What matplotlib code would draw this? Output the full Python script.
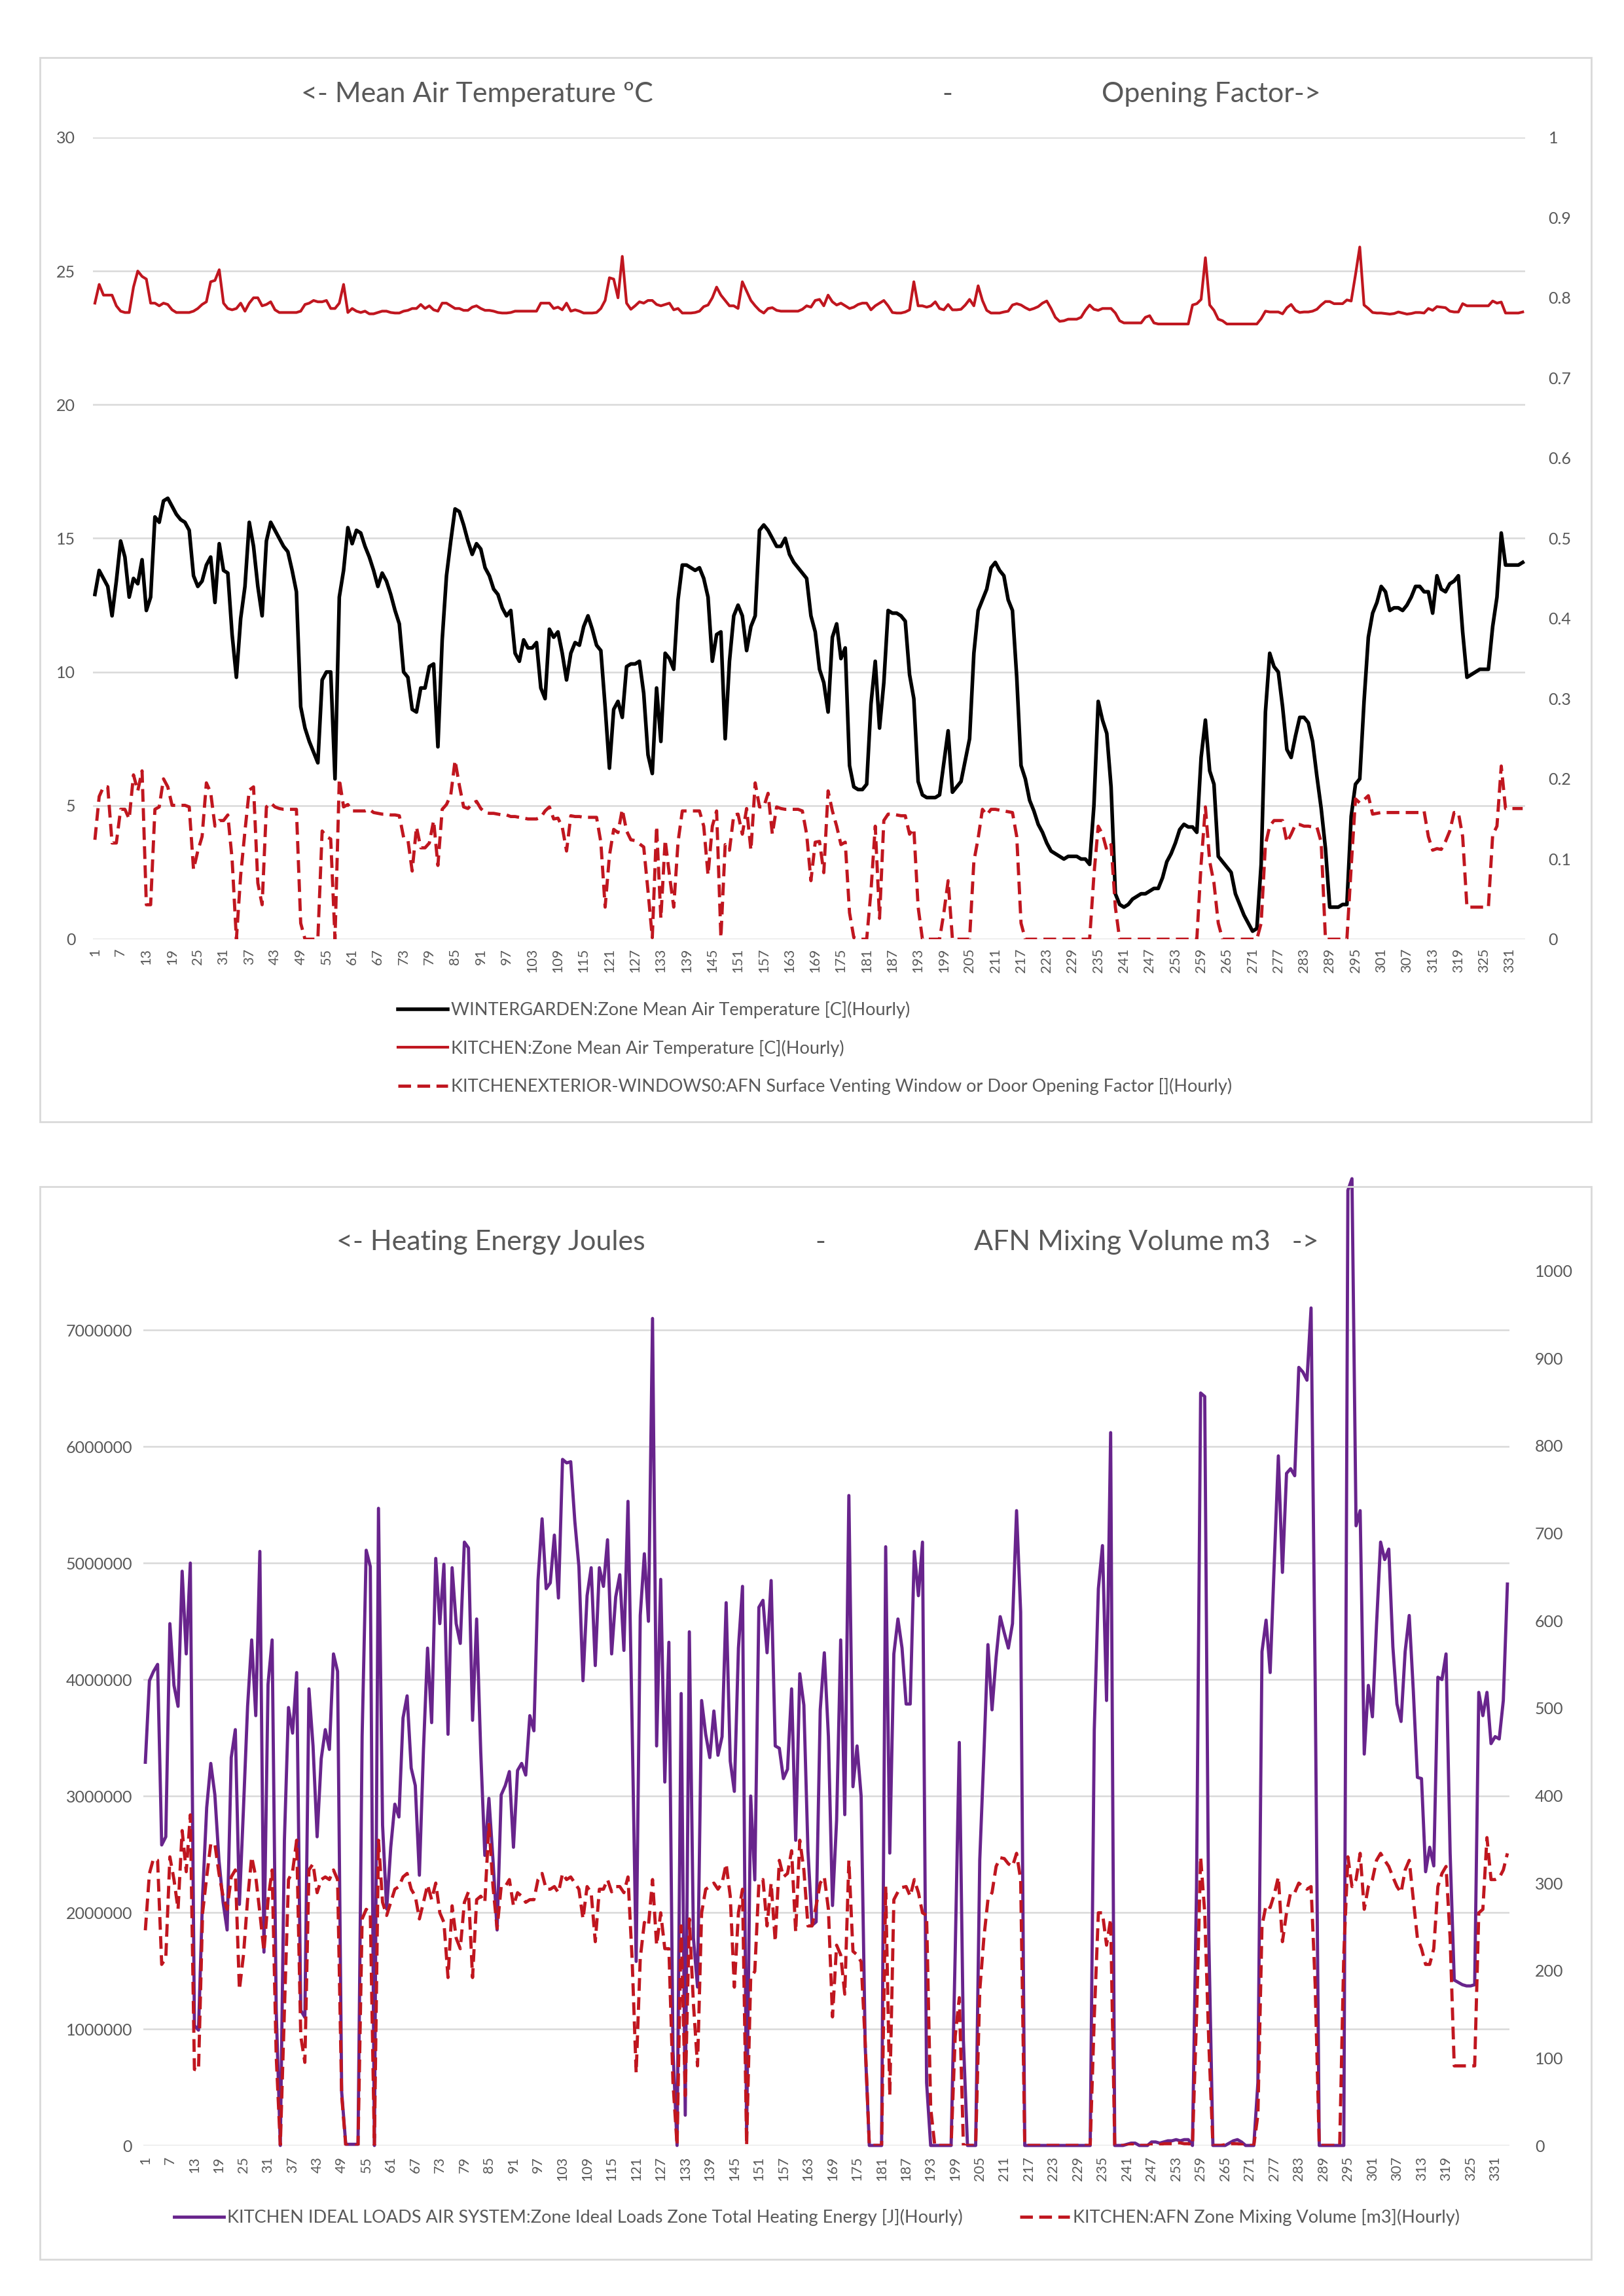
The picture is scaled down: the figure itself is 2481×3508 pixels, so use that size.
import matplotlib
matplotlib.use("Agg")
import matplotlib.pyplot as plt
import numpy as np
from matplotlib.patches import Rectangle

plt.rcParams["font.family"] = ["Lato", "DejaVu Sans"]

# ---------------------------------------------------------------- data
hours = np.arange(1, 335)

wintergarden_temp = [
    12.9, 13.8, 13.5, 13.2, 12.1, 13.4, 14.9, 14.3, 12.8, 13.5,
    13.3, 14.2, 12.3, 12.8, 15.8, 15.6, 16.4, 16.5, 16.2, 15.9,
    15.7, 15.6, 15.3, 13.6, 13.2, 13.4, 14.0, 14.3, 12.6, 14.8,
    13.8, 13.7, 11.4, 9.8, 12.0, 13.2, 15.6, 14.7, 13.2, 12.1,
    14.9, 15.6, 15.3, 15.0, 14.7, 14.5, 13.8, 13.0, 8.7, 7.9,
    7.4, 7.0, 6.6, 9.7, 10.0, 10.0, 6.0, 12.8, 13.8, 15.4,
    14.8, 15.3, 15.2, 14.7, 14.3, 13.8, 13.2, 13.7, 13.4, 12.9,
    12.3, 11.8, 10.0, 9.8, 8.6, 8.5, 9.4, 9.4, 10.2, 10.3,
    7.2, 11.2, 13.6, 14.9, 16.1, 16.0, 15.5, 14.9, 14.4, 14.8,
    14.6, 13.9, 13.6, 13.1, 12.9, 12.4, 12.1, 12.3, 10.7, 10.4,
    11.2, 10.9, 10.9, 11.1, 9.4, 9.0, 11.6, 11.3, 11.5, 10.7,
    9.7, 10.7, 11.1, 11.0, 11.7, 12.1, 11.6, 11.0, 10.8, 8.7,
    6.4, 8.6, 8.9, 8.3, 10.2, 10.3, 10.3, 10.4, 9.2, 6.9,
    6.2, 9.4, 7.4, 10.7, 10.5, 10.1, 12.7, 14.0, 14.0, 13.9,
    13.8, 13.9, 13.5, 12.8, 10.4, 11.4, 11.5, 7.5, 10.4, 12.1,
    12.5, 12.1, 10.8, 11.7, 12.1, 15.3, 15.5, 15.3, 15.0, 14.7,
    14.7, 15.0, 14.4, 14.1, 13.9, 13.7, 13.5, 12.1, 11.5, 10.1,
    9.6, 8.5, 11.3, 11.8, 10.5, 10.9, 6.5, 5.7, 5.6, 5.6,
    5.8, 8.8, 10.4, 7.9, 9.6, 12.3, 12.2, 12.2, 12.1, 11.9,
    9.9, 9.0, 5.9, 5.4, 5.3, 5.3, 5.3, 5.4, 6.6, 7.8,
    5.5, 5.7, 5.9, 6.7, 7.5, 10.7, 12.3, 12.7, 13.1, 13.9,
    14.1, 13.8, 13.6, 12.7, 12.3, 9.8, 6.5, 6.0, 5.2, 4.8,
    4.3, 4.0, 3.6, 3.3, 3.2, 3.1, 3.0, 3.1, 3.1, 3.1,
    3.0, 3.0, 2.8, 5.0, 8.9, 8.2, 7.7, 5.7, 1.7, 1.3,
    1.2, 1.3, 1.5, 1.6, 1.7, 1.7, 1.8, 1.9, 1.9, 2.3,
    2.9, 3.2, 3.6, 4.1, 4.3, 4.2, 4.2, 4.0, 6.8, 8.2,
    6.3, 5.8, 3.1, 2.9, 2.7, 2.5, 1.7, 1.3, 0.9, 0.6,
    0.3, 0.4, 2.8, 8.5, 10.7, 10.2, 10.0, 8.7, 7.1, 6.8,
    7.6, 8.3, 8.3, 8.1, 7.4, 6.1, 4.9, 3.4, 1.2, 1.2,
    1.2, 1.3, 1.3, 4.6, 5.8, 6.0, 8.9, 11.3, 12.2, 12.6,
    13.2, 13.0, 12.3, 12.4, 12.4, 12.3, 12.5, 12.8, 13.2, 13.2,
    13.0, 13.0, 12.2, 13.6, 13.1, 13.0, 13.3, 13.4, 13.6, 11.5,
    9.8, 9.9, 10.0, 10.1, 10.1, 10.1, 11.7, 12.8, 15.2, 14.0,
    14.0, 14.0, 14.0, 14.1,
]

kitchen_temp = [
    23.8, 24.5, 24.1, 24.1, 24.1, 23.7, 23.5, 23.45, 23.45, 24.4,
    25.0, 24.8, 24.7, 23.8, 23.8, 23.7, 23.8, 23.75, 23.55, 23.45,
    23.45, 23.45, 23.45, 23.5, 23.6, 23.75, 23.85, 24.6, 24.65, 25.05,
    23.8, 23.6, 23.55, 23.6, 23.8, 23.5, 23.8, 24.0, 24.0, 23.7,
    23.75, 23.85, 23.55, 23.45, 23.45, 23.45, 23.45, 23.45, 23.5, 23.75,
    23.8, 23.9, 23.85, 23.85, 23.9, 23.6, 23.6, 23.8, 24.5, 23.45,
    23.6, 23.5, 23.45, 23.5, 23.4, 23.4, 23.45, 23.5, 23.5, 23.45,
    23.43, 23.43, 23.5, 23.53, 23.6, 23.6, 23.75, 23.6, 23.7, 23.55,
    23.5, 23.8, 23.8, 23.7, 23.6, 23.6, 23.53, 23.53, 23.65, 23.7,
    23.6, 23.53, 23.53, 23.5, 23.45, 23.43, 23.43, 23.45, 23.5, 23.5,
    23.5, 23.5, 23.5, 23.5, 23.8, 23.8, 23.8, 23.6, 23.65, 23.55,
    23.8, 23.5, 23.55, 23.5, 23.43, 23.43, 23.43, 23.45, 23.6, 23.9,
    24.75, 24.7, 24.0, 25.55, 23.8, 23.57, 23.7, 23.85, 23.8, 23.9,
    23.9, 23.75, 23.7, 23.75, 23.8, 23.55, 23.6, 23.43, 23.43, 23.43,
    23.45, 23.5, 23.67, 23.73, 24.0, 24.4, 24.1, 23.9, 23.7, 23.7,
    23.6, 24.6, 24.25, 23.9, 23.7, 23.53, 23.43, 23.6, 23.63, 23.53,
    23.5, 23.5, 23.5, 23.5, 23.5, 23.57, 23.7, 23.65, 23.9, 23.94,
    23.7, 24.1, 23.85, 23.73, 23.8, 23.7, 23.6, 23.65, 23.75, 23.8,
    23.8, 23.55, 23.7, 23.8, 23.9, 23.7, 23.45, 23.43, 23.43, 23.47,
    23.55, 24.6, 23.7, 23.7, 23.65, 23.7, 23.85, 23.6, 23.55, 23.75,
    23.55, 23.55, 23.57, 23.73, 23.94, 23.7, 24.45, 23.9, 23.53, 23.43,
    23.43, 23.43, 23.47, 23.5, 23.73, 23.78, 23.73, 23.63, 23.55, 23.6,
    23.67, 23.8, 23.88, 23.6, 23.27, 23.12, 23.14, 23.2, 23.2, 23.2,
    23.27, 23.53, 23.73, 23.57, 23.53, 23.6, 23.6, 23.6, 23.43, 23.14,
    23.06, 23.06, 23.06, 23.06, 23.06, 23.27, 23.33, 23.06, 23.02, 23.02,
    23.02, 23.02, 23.02, 23.02, 23.02, 23.02, 23.73, 23.78, 23.94, 25.5,
    23.73, 23.53, 23.2, 23.14, 23.02, 23.02, 23.02, 23.02, 23.02, 23.02,
    23.02, 23.02, 23.22, 23.5, 23.47, 23.47, 23.47, 23.4, 23.63, 23.75,
    23.53, 23.45, 23.47, 23.47, 23.5, 23.57, 23.73, 23.86, 23.86, 23.78,
    23.78, 23.78, 23.92, 23.88, 24.86, 25.9, 23.73, 23.6, 23.45, 23.43,
    23.43, 23.41, 23.39, 23.41, 23.47, 23.43, 23.39, 23.41, 23.45, 23.45,
    23.43, 23.6, 23.53, 23.67, 23.65, 23.63, 23.5, 23.47, 23.47, 23.78,
    23.7, 23.7, 23.7, 23.7, 23.7, 23.7, 23.88, 23.8, 23.84, 23.43,
    23.43, 23.43, 23.43, 23.47,
]

opening_factor = [
    0.124, 0.178, 0.19, 0.19, 0.12, 0.12, 0.162, 0.162, 0.15, 0.205,
    0.185, 0.21, 0.043, 0.043, 0.162, 0.165, 0.2, 0.19, 0.167, 0.167,
    0.167, 0.167, 0.165, 0.087, 0.11, 0.128, 0.195, 0.183, 0.141, 0.148,
    0.148, 0.155, 0.1, 0.0, 0.08, 0.135, 0.186, 0.19, 0.07, 0.043,
    0.165, 0.17, 0.165, 0.163, 0.162, 0.162, 0.162, 0.162, 0.02, 0.0,
    0.0, 0.0, 0.0, 0.135, 0.128, 0.125, 0.0, 0.2, 0.165, 0.168,
    0.16, 0.16, 0.16, 0.16, 0.162, 0.158, 0.157, 0.156, 0.156, 0.155,
    0.155, 0.154, 0.127, 0.124, 0.085, 0.14, 0.114, 0.114, 0.12, 0.148,
    0.092, 0.162, 0.168, 0.18, 0.223, 0.192, 0.165, 0.163, 0.169, 0.172,
    0.163, 0.158, 0.157, 0.157, 0.156, 0.155, 0.155, 0.153, 0.153, 0.152,
    0.151, 0.15, 0.15, 0.15, 0.152, 0.16, 0.165, 0.15, 0.151, 0.14,
    0.11, 0.154, 0.153, 0.153, 0.152, 0.152, 0.152, 0.152, 0.121, 0.04,
    0.104, 0.137, 0.133, 0.162, 0.135, 0.124, 0.123, 0.119, 0.115, 0.06,
    0.002, 0.141, 0.026, 0.124, 0.08, 0.04, 0.121, 0.16, 0.16, 0.16,
    0.16, 0.16, 0.141, 0.08, 0.141, 0.16, 0.002, 0.118, 0.111, 0.155,
    0.156, 0.131, 0.163, 0.111, 0.195, 0.165, 0.165, 0.182, 0.131, 0.165,
    0.163, 0.162, 0.162, 0.162, 0.162, 0.16, 0.131, 0.073, 0.121, 0.122,
    0.083, 0.185, 0.16, 0.141, 0.118, 0.121, 0.033, 0.002, 0.0, 0.0,
    0.0, 0.06, 0.141, 0.026, 0.148, 0.156, 0.156, 0.155, 0.154, 0.154,
    0.131, 0.138, 0.04, 0.0, 0.0, 0.0, 0.0, 0.0, 0.033, 0.073,
    0.0, 0.0, 0.0, 0.0, 0.0, 0.097, 0.126, 0.162, 0.155, 0.162,
    0.162, 0.161, 0.16, 0.159, 0.158, 0.128, 0.02, 0.0, 0.0, 0.0,
    0.0, 0.0, 0.0, 0.0, 0.0, 0.0, 0.0, 0.0, 0.0, 0.0,
    0.0, 0.0, 0.0, 0.08, 0.141, 0.131, 0.111, 0.118, 0.04, 0.0,
    0.0, 0.0, 0.0, 0.0, 0.0, 0.0, 0.0, 0.0, 0.0, 0.0,
    0.0, 0.0, 0.0, 0.0, 0.0, 0.0, 0.0, 0.0, 0.094, 0.165,
    0.097, 0.07, 0.02, 0.0, 0.0, 0.0, 0.0, 0.0, 0.0, 0.0,
    0.0, 0.0, 0.02, 0.118, 0.141, 0.148, 0.148, 0.148, 0.121, 0.131,
    0.143, 0.143, 0.141, 0.141, 0.14, 0.14, 0.121, 0.0, 0.0, 0.0,
    0.0, 0.0, 0.0, 0.09, 0.175, 0.17, 0.174, 0.179, 0.156, 0.157,
    0.158, 0.158, 0.158, 0.158, 0.158, 0.158, 0.158, 0.158, 0.158, 0.158,
    0.16, 0.128, 0.111, 0.113, 0.112, 0.122, 0.135, 0.158, 0.158, 0.128,
    0.04, 0.04, 0.04, 0.04, 0.04, 0.04, 0.13, 0.141, 0.216, 0.163,
    0.163, 0.163, 0.163, 0.163,
]

# heating energy in millions of joules
heating_mj = [
    3.29, 3.99, 4.07, 4.13, 2.58, 2.65, 4.48, 3.95, 3.77, 4.93,
    4.22, 5.0, 1.03, 0.99, 2.14, 2.9, 3.28, 3.01, 2.45, 2.09,
    1.85, 3.33, 3.57, 2.07, 2.9, 3.77, 4.34, 3.69, 5.1, 1.66,
    3.96, 4.34, 1.16, 0.0, 2.62, 3.76, 3.54, 4.06, 1.16, 1.1,
    3.92, 3.43, 2.65, 3.32, 3.57, 3.4, 4.22, 4.07, 0.46, 0.01,
    0.01, 0.01, 0.01, 3.51, 5.11, 4.97, 0.0, 5.47, 2.75, 2.03,
    2.56, 2.93, 2.82, 3.67, 3.86, 3.24, 3.09, 2.32, 3.4, 4.27,
    3.63, 5.04, 4.48, 4.99, 3.53, 4.96, 4.48, 4.31, 5.18, 5.13,
    3.65, 4.52, 3.38, 2.49, 2.98, 2.45, 1.85, 3.01, 3.09, 3.21,
    2.56, 3.22, 3.28, 3.18, 3.69, 3.56, 4.85, 5.38, 4.78, 4.83,
    5.24, 4.7, 5.89, 5.86, 5.87, 5.36, 4.97, 3.99, 4.72, 4.96,
    4.12, 4.96, 4.8, 5.2, 4.22, 4.71, 4.9, 4.25, 5.53, 3.63,
    1.58, 4.55, 5.08, 4.5, 7.1, 3.43, 4.86, 3.12, 4.32, 0.82,
    0.0, 3.88, 0.26, 4.41, 1.78, 1.36, 3.82, 3.53, 3.33, 3.73,
    3.35, 3.51, 4.66, 3.3, 3.04, 4.27, 4.8, 0.1, 3.0, 2.28,
    4.62, 4.68, 4.23, 4.85, 3.43, 3.41, 3.15, 3.23, 3.92, 2.62,
    4.05, 3.78, 2.53, 1.89, 1.92, 3.74, 4.23, 3.51, 2.06, 2.79,
    4.34, 2.84, 5.58, 3.08, 3.43, 3.0, 0.85, 0.0, 0.0, 0.0,
    0.0, 5.14, 2.51, 4.22, 4.52, 4.27, 3.79, 3.79, 5.1, 4.72,
    5.18, 0.54, 0.0, 0.0, 0.0, 0.0, 0.0, 0.0, 1.66, 3.46,
    0.9, 0.0, 0.0, 0.0, 2.45, 3.35, 4.3, 3.74, 4.19, 4.54,
    4.4, 4.27, 4.48, 5.45, 4.58, 0.0, 0.0, 0.0, 0.0, 0.0,
    0.0, 0.0, 0.0, 0.0, 0.0, 0.0, 0.0, 0.0, 0.0, 0.0,
    0.0, 0.0, 3.57, 4.78, 5.15, 3.82, 6.12, 0.0, 0.0, 0.0,
    0.01, 0.02, 0.02, 0.0, 0.0, 0.0, 0.03, 0.03, 0.02, 0.03,
    0.04, 0.04, 0.05, 0.04, 0.05, 0.05, 0.0, 2.22, 6.46, 6.43,
    1.78, 0.0, 0.0, 0.0, 0.0, 0.02, 0.04, 0.05, 0.03, 0.0,
    0.0, 0.0, 0.54, 4.24, 4.51, 4.06, 5.0, 5.92, 4.92, 5.77,
    5.81, 5.75, 6.68, 6.64, 6.57, 7.19, 4.0, 0.0, 0.0, 0.0,
    0.0, 0.0, 0.0, 0.0, 8.2, 8.3, 5.32, 5.45, 3.36, 3.95,
    3.68, 4.47, 5.18, 5.03, 5.12, 4.28, 3.79, 3.64, 4.24, 4.55,
    3.9, 3.16, 3.15, 2.35, 2.56, 2.4, 4.02, 4.0, 4.22, 2.51,
    1.42, 1.4, 1.38, 1.37, 1.37, 1.38, 3.89, 3.69, 3.89, 3.45,
    3.51, 3.49, 3.82, 4.82,
]

mixing_volume = [
    246, 311, 328, 326, 207, 214, 330, 304, 270, 360,
    313, 378, 87, 86, 266, 307, 345, 345, 311, 285,
    270, 307, 315, 178, 218, 281, 330, 307, 266, 222,
    281, 315, 102, 0, 154, 304, 313, 349, 125, 95,
    315, 322, 289, 304, 307, 304, 315, 304, 57, 0,
    0, 0, 0, 259, 270, 266, 0, 349, 278, 263,
    278, 293, 296, 307, 311, 293, 285, 259, 278, 298,
    281, 300, 266, 255, 192, 274, 237, 225, 278, 290,
    192, 281, 285, 278, 367, 296, 248, 296, 296, 304,
    274, 289, 285, 278, 281, 281, 304, 311, 293, 293,
    296, 289, 311, 304, 307, 300, 293, 259, 296, 289,
    233, 293, 293, 304, 290, 296, 296, 289, 307, 214,
    83, 214, 255, 251, 304, 229, 266, 225, 225, 72,
    0, 251, 57, 259, 162, 91, 266, 293, 296, 300,
    293, 300, 322, 285, 181, 266, 293, 0, 192, 199,
    300, 304, 251, 300, 233, 326, 307, 311, 337, 244,
    349, 315, 251, 251, 274, 300, 307, 270, 147, 229,
    218, 173, 326, 222, 218, 210, 117, 0, 0, 0,
    0, 296, 57, 281, 290, 295, 296, 285, 304, 289,
    266, 263, 43, 0, 0, 0, 0, 0, 125, 169,
    0, 0, 0, 0, 177, 237, 281, 289, 319, 329,
    328, 322, 319, 334, 304, 0, 0, 0, 0, 0,
    0, 0, 0, 0, 0, 0, 0, 0, 0, 0,
    0, 0, 147, 266, 266, 229, 259, 0, 0, 0,
    0, 1, 1, 0, 0, 0, 1, 1, 1, 2,
    2, 2, 3, 3, 2, 2, 0, 147, 330, 266,
    117, 0, 0, 0, 1, 2, 2, 2, 1, 0,
    0, 0, 35, 251, 275, 272, 287, 307, 233, 266,
    289, 289, 300, 296, 293, 296, 184, 0, 0, 0,
    0, 0, 0, 218, 330, 296, 304, 334, 270, 296,
    304, 326, 334, 326, 319, 307, 296, 289, 315, 326,
    281, 237, 225, 207, 207, 225, 296, 311, 319, 237,
    91, 91, 91, 91, 91, 91, 266, 270, 352, 304,
    304, 306, 315, 334,
]

top_labels = [
    "WINTERGARDEN:Zone Mean Air Temperature [C](Hourly)",
    "KITCHEN:Zone Mean Air Temperature [C](Hourly)",
    "KITCHENEXTERIOR-WINDOWS0:AFN Surface Venting Window or Door Opening Factor [](Hourly)",
]
bottom_labels = [
    "KITCHEN IDEAL LOADS AIR SYSTEM:Zone Ideal Loads Zone Total Heating Energy [J](Hourly)",
    "KITCHEN:AFN Zone Mixing Volume [m3](Hourly)",
]

# ---------------------------------------------------------------- style
W, H = 2481, 3508
TXT = "#595959"
GRID = "#D9D9D9"
RED = "#C0161F"
PURPLE = "#68248C"
DASH = (0, (4, 2))
TITLE_FS = 31
LEGEND_FS = 19.5

fig = plt.figure(figsize=(W / 100, H / 100), dpi=100)


def px_axes(left, top, right, bottom):
    return fig.add_axes([left / W, 1 - bottom / H, (right - left) / W, (bottom - top) / H])


def frame(left, top, right, bottom):
    fig.patches.append(Rectangle((left / W, 1 - bottom / H), (right - left) / W,
                                 (bottom - top) / H, transform=fig.transFigure,
                                 fill=False, edgecolor=GRID, lw=2))


def style(ax, ax_r, lpad, rpad, xpad):
    for a in (ax, ax_r):
        for s in a.spines.values():
            s.set_visible(False)
        a.tick_params(length=0, colors=TXT, labelsize=18)
    ax.tick_params(axis="y", pad=lpad)
    ax_r.tick_params(axis="y", pad=rpad)
    ax.tick_params(axis="x", pad=xpad, labelsize=15.5)
    ax.yaxis.grid(True, color=GRID, lw=1.8)
    ax.set_axisbelow(True)
    ax.set_xlim(0.5, 334.5)
    ticks = hours[::6]
    ax.set_xticks(ticks)
    ax.set_xticklabels([str(t) for t in ticks], rotation=90)


# ---------------------------------------------------------------- top chart
frame(61, 88, 2431, 1714)
ax = px_axes(141.7, 210, 2329.5, 1435)
ax_r = ax.twinx()
l1, = ax.plot(hours, wintergarden_temp, color="black", lw=4)
l2, = ax.plot(hours, kitchen_temp, color=RED, lw=3)
l3, = ax_r.plot(hours, opening_factor, color=RED, lw=3.5, ls=DASH)
ax.set_ylim(0, 30)
ax.set_yticks(range(0, 31, 5))
ax_r.set_ylim(0, 1)
ax_r.set_yticks(np.arange(0, 1.01, 0.1))
ax_r.set_yticklabels(["0", "0.1", "0.2", "0.3", "0.4", "0.5", "0.6", "0.7", "0.8", "0.9", "1"])
style(ax, ax_r, 19, 26, 10)

fig.text(460 / W, 1 - 144 / H, "<- Mean Air Temperature ºC", color=TXT, fontsize=TITLE_FS,
         ha="left", va="center")
fig.text(1447 / W, 1 - 144 / H, "-", color=TXT, fontsize=TITLE_FS, ha="center", va="center")
fig.text(1683 / W, 1 - 144 / H, "Opening Factor->", color=TXT, fontsize=TITLE_FS,
         ha="left", va="center")

fig.legend([l1, l2, l3], top_labels, loc="upper left",
           bbox_to_anchor=(608 / W, 1 - 1530 / H), frameon=False, fontsize=LEGEND_FS,
           labelcolor=TXT, handlelength=2.8, handletextpad=0.2, labelspacing=1.2,
           borderaxespad=0, borderpad=0)

# ---------------------------------------------------------------- bottom chart
frame(61, 1813, 2431, 3452)
bx = px_axes(218.9, 1808, 2306, 3278)
bx_r = bx.twinx()
l4, = bx.plot(hours, np.array(heating_mj) * 1e6, color=PURPLE, lw=3.5, clip_on=False)
l5, = bx_r.plot(hours, mixing_volume, color=RED, lw=3.5, ls=DASH)
bx.set_ylim(0, 8.26e6)
bx.set_yticks(np.arange(0, 7.5e6, 1e6))
bx.set_yticklabels([f"{int(v)}" for v in np.arange(0, 7.5e6, 1e6)])
bx_r.set_ylim(0, 1100)
bx_r.set_yticks(range(0, 1001, 100))
style(bx, bx_r, 12, 28, 12)

fig.text(514 / W, 1 - 1898 / H, "<- Heating Energy Joules", color=TXT, fontsize=TITLE_FS,
         ha="left", va="center")
fig.text(1253 / W, 1 - 1898 / H, "-", color=TXT, fontsize=TITLE_FS, ha="center", va="center")
fig.text(1488 / W, 1 - 1898 / H, "AFN Mixing Volume m3   ->", color=TXT, fontsize=TITLE_FS,
         ha="left", va="center")

fig.legend([l4, l5], bottom_labels, loc="upper left", ncol=2,
           bbox_to_anchor=(266 / W, 1 - 3375 / H), frameon=False, fontsize=LEGEND_FS,
           labelcolor=TXT, handlelength=2.8, handletextpad=0.2, columnspacing=3.2,
           borderaxespad=0, borderpad=0)

fig.savefig("out.png", dpi=100, facecolor="white")
